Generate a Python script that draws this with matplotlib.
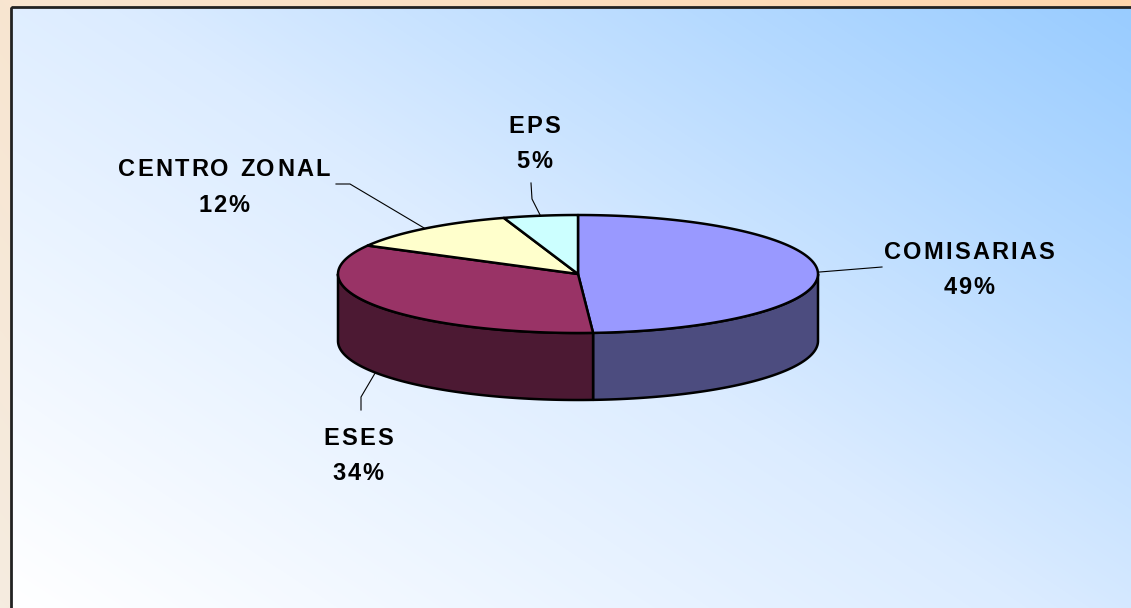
import numpy as np
import matplotlib.pyplot as plt
from matplotlib.patches import Polygon, Rectangle
from matplotlib.colors import LinearSegmentedColormap
from matplotlib.font_manager import FontProperties, findfont
from matplotlib.ft2font import FT2Font

# datos del grafico
labels = ['COMISARIAS', 'ESES', 'CENTRO ZONAL', 'EPS']
values = [49, 34, 12, 5]
top_colors = ['#9999FF', '#993366', '#FFFFCC', '#CCFFFF']
side_colors = ['#4C4C7F', '#4C1933', '#7F7F66', '#667F7F']

W, H = 1131, 608
DPI = 100
fig = plt.figure(figsize=(W / DPI, H / DPI), dpi=DPI)
ax = fig.add_axes([0, 0, 1, 1])
ax.set_xlim(0, W)
ax.set_ylim(H, 0)
ax.axis('off')

# fondo exterior (melocoton) y panel interior (degradado azul)
yy, xx = np.mgrid[0:H, 0:W]
t_out = 0.7 * xx / W + 0.3 * (1 - yy / H)
peach = LinearSegmentedColormap.from_list('peach', ['#F5ECE0', '#FFD6AC'])
ax.imshow(t_out, cmap=peach, extent=(0, W, H, 0), aspect='auto', zorder=0)

px0, py0 = 11, 7
t_in = 0.55 * (xx - px0) / (W - px0) + 0.45 * (1 - (yy - py0) / (H - py0))
blue = LinearSegmentedColormap.from_list('blue', ['#FFFFFF', '#DCECFF', '#99CCFF'])
ax.imshow(np.clip(t_in, 0, 1), cmap=blue, extent=(px0, W + 5, H + 5, py0),
          aspect='auto', zorder=1)
ax.add_patch(Rectangle((px0, py0), W, H, fill=False, ec='#222222', lw=2, zorder=2))

# pastel 3D
cx, cy, a, b, depth = 578, 274, 240, 59, 67


def pt(t, dy=0):
    r = np.radians(t)
    return cx + a * np.cos(r), cy - b * np.sin(r) + dy


start = 90.0
bounds = []
for v in values:
    end = start - 360.0 * v / 100
    bounds.append((start, end))
    start = end

# caras laterales (solo la mitad frontal)
for (t1, t2), col in zip(bounds, side_colors):
    lo, hi = max(t2, -180), min(t1, 0)
    if lo >= hi:
        continue
    ts = np.linspace(hi, lo, 80)
    top = [pt(t) for t in ts]
    bot = [pt(t, depth) for t in ts[::-1]]
    ax.add_patch(Polygon(top + bot, closed=True, fc=col, ec='black', lw=1.8,
                         joinstyle='round', zorder=3))

# caras superiores
for (t1, t2), col in zip(bounds, top_colors):
    ts = np.linspace(t1, t2, 120)
    poly = [(cx, cy)] + [pt(t) for t in ts]
    ax.add_patch(Polygon(poly, closed=True, fc=col, ec='black', lw=1.8,
                         joinstyle='round', zorder=4))

# texto con espaciado entre letras
FS = 17
TRACK = 2.2
prop = FontProperties(family='Liberation Sans', weight='bold', size=FS)
ft = FT2Font(findfont(prop))
ft.set_size(FS, DPI)


def spaced_text(x, y, s):
    advs = [ft.load_char(ord(c)).linearHoriAdvance / 65536 for c in s]
    total = sum(advs) + TRACK * (len(s) - 1)
    xpos = x - total / 2
    for c, w in zip(s, advs):
        ax.text(xpos, y, c, ha='left', va='baseline', fontproperties=prop, zorder=6)
        xpos += w + TRACK


# etiquetas y lineas guia
mids = [(t1 + t2) / 2 for t1, t2 in bounds]
anchors = [pt(mids[0]), pt(mids[1], depth), pt(mids[2]), pt(mids[3])]
guides = [
    [(882, 267)],
    [(361, 397), (361, 410)],
    [(350, 184), (336, 184)],
    [(532, 199), (531, 183)],
]
text_pos = [(969, 259), (358, 445), (224, 176), (534, 133)]

for lab, v, anc, g, (tx, ty) in zip(labels, values, anchors, guides, text_pos):
    xs = [anc[0]] + [p[0] for p in g]
    ys = [anc[1]] + [p[1] for p in g]
    ax.plot(xs, ys, color='black', lw=0.8, zorder=5)
    spaced_text(tx, ty, lab)
    spaced_text(tx, ty + 35.5, f'{v}%')

fig.savefig('out.png', dpi=DPI)
